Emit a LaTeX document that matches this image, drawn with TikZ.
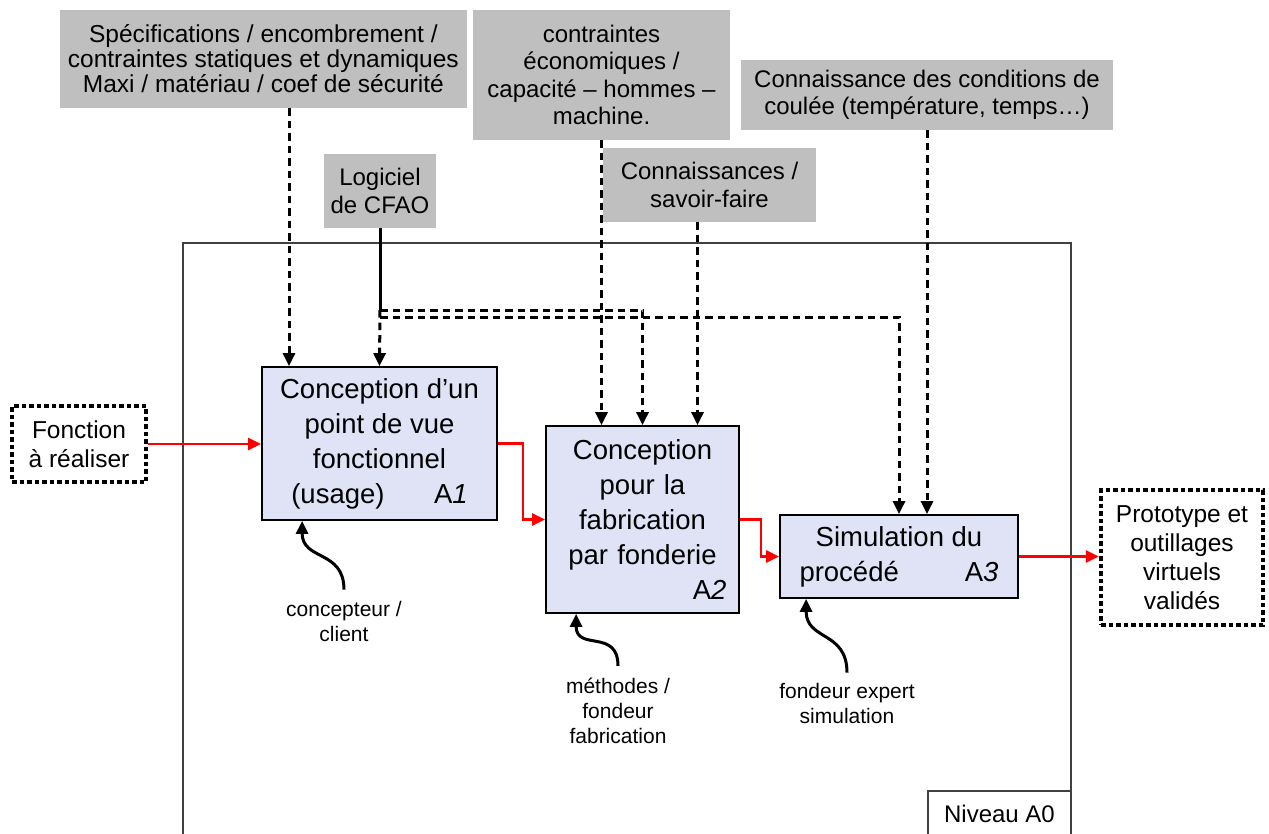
\documentclass[tikz,border=0pt]{standalone}
\usepackage{fontspec}
\setmainfont{Liberation Sans}
\usetikzlibrary{arrows.meta, positioning}
\definecolor{fondActivite}{RGB}{224,227,246}
\definecolor{fondDonnee}{gray}{0.75}
\definecolor{bordCadre}{gray}{0.25}
\definecolor{rougeFlux}{RGB}{255,0,0}

\begin{document}
\begin{tikzpicture}[
  x=1pt, y=-1pt,
  activite/.style={draw=black, line width=1.8pt, fill=fondActivite, inner sep=0pt,
                   align=center, font=\fontsize{27.5}{35}\selectfont},
  donnee/.style={fill=fondDonnee, inner sep=0pt, align=center,
                 font=\fontsize{24}{27.5}\selectfont},
  frontiere/.style={draw=black, line width=4.5pt, dash pattern=on 4.5pt off 3pt,
                    inner sep=0pt, align=center, font=\fontsize{24.5}{29}\selectfont},
  acteur/.style={align=center, inner sep=4pt, font=\fontsize{21}{25}\selectfont},
  cadre/.style={draw=bordCadre, line width=1.5pt, inner sep=0pt},
  flux/.style={-{Triangle[length=13pt, width=12pt]}, draw=rougeFlux, line width=2.8pt},
  controle/.style={-{Triangle[length=13pt, width=12pt]}, draw=black, line width=3pt,
                   dash pattern=on 7.5pt off 5pt},
  tige/.style={draw=black, line width=3pt},
  mecanisme/.style={-{Triangle[length=13pt, width=12pt]}, draw=black, line width=3pt}
]
\useasboundingbox (0,0) rectangle (1269,834);

% niveau A0
\node[cadre, minimum width=888pt, minimum height=594pt] (a0) at (627,540) {};
\node[cadre, minimum width=143pt, minimum height=46pt, anchor=south east,
      font=\fontsize{24}{28}\selectfont] (niveau) at (a0.south east) {Niveau A0};

% activites
\node[activite, minimum width=235pt, minimum height=153pt] (a1) at (379.5,443.5) {Conception d’un\\point de vue\\fonctionnel\\(usage)\hspace{1.8em}A\textit{1}};
\node[activite, minimum width=193pt, minimum height=187pt, text width=168pt] (a2) at (642.5,519.5) {Conception\\pour la\\fabrication\\par fonderie\\\hfill A\textit{2}};
\node[activite, minimum width=238pt, minimum height=83pt] (a3) at (899,556.5) {Simulation du\\procédé\hspace{2.4em}A\textit{3}};

% entree / sortie
\node[frontiere, minimum width=134pt, minimum height=76pt] (fonction) at (79,444) {Fonction\\à réaliser};
\node[frontiere, minimum width=162pt, minimum height=135pt] (sortie) at (1182,557.5) {Prototype et\\outillages\\virtuels\\validés};

% donnees de controle
\node[donnee, minimum height=98pt, inner xsep=8pt, anchor=east,
      font=\fontsize{24.5}{25}\selectfont] (specs) at (467,59) {Spécifications / encombrement /\\contraintes statiques et dynamiques\\Maxi / matériau / coef de sécurité};
\node[donnee, minimum width=257pt, minimum height=130pt] (eco) at (601.5,75) {contraintes\\économiques /\\capacité – hommes –\\machine.};
\node[donnee, minimum width=372pt, minimum height=70pt] (coulee) at (927,95) {Connaissance des conditions de\\coulée (température, temps…)};
\node[donnee, minimum width=213pt, minimum height=74pt] (savoir) at (709.5,185) {Connaissances /\\savoir-faire};
\node[donnee, minimum width=112pt, minimum height=74pt] (cfao) at (380,191) {Logiciel\\de CFAO};

% flux principal
\draw[flux] (fonction.east) -- (fonction.east -| a1.west);
\draw[flux] (a1.east) -- ++(25,0) |- (a2.west);
\draw[flux] (a2.east) -- ++(21,0) |- (a3.west);
\draw[flux] (a3.east) -- (a3.east -| sortie.west);

% controles
\draw[controle] ([xshift=-90.5pt]a1.north |- specs.south) -- ([xshift=-90.5pt]a1.north);
\draw[controle] (eco.south) -- (eco.south |- a2.north);
\draw[controle] ([xshift=-12pt]savoir.south) -- ([xshift=-12pt]savoir.south |- a2.north);
\draw[controle] (coulee.south) -- (coulee.south |- a3.north);

\coordinate (bif) at ([yshift=-82pt]cfao.south);
\coordinate (bifbas) at ([yshift=-89pt]cfao.south);
\draw[tige] (cfao.south) -- (bif);
\draw[controle] (bif) -- (a1.north);
\draw[controle] (bif) -- (bif -| a2.north) -- (a2.north);
\draw[controle] (bifbas) -- (bifbas -| a3.north) -- (a3.north);

% mecanismes
\node[acteur] (concepteur) at (344,621) {concepteur /\\client};
\node[acteur] (methodes) at (618,711) {méthodes /\\fondeur\\fabrication};
\node[acteur] (fondeur) at (847,703) {fondeur expert\\simulation};

\draw[mecanisme] ([yshift=7pt]concepteur.north) .. controls +(0,-40) and +(0,40) .. ([xshift=41pt]a1.south west);
\draw[mecanisme] ([yshift=8pt]methodes.north) .. controls +(0,-38) and +(0,38) .. ([xshift=31pt]a2.south west);
\draw[mecanisme] ([yshift=6pt]fondeur.north) .. controls +(0,-42) and +(0,42) .. ([xshift=27pt]a3.south west);

\end{tikzpicture}
\end{document}
